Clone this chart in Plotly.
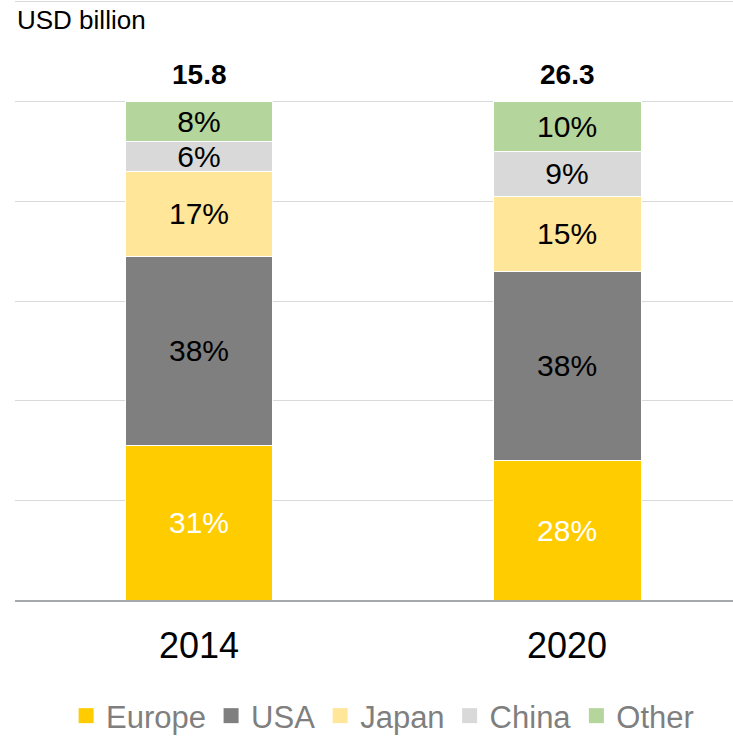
import plotly.graph_objects as go

years = ["2014", "2020"]
totals = [15.8, 26.3]
regions = ["Europe", "USA", "Japan", "China", "Other"]
shares = {
    "Europe": [31, 28],
    "USA": [38, 38],
    "Japan": [17, 15],
    "China": [6, 9],
    "Other": [8, 10],
}
colors = {
    "Europe": "#FFCC00",
    "USA": "#7F7F7F",
    "Japan": "#FFE699",
    "China": "#D9D9D9",
    "Other": "#B4D59C",
}
text_colors = {"Europe": "white", "USA": "black", "Japan": "black", "China": "black", "Other": "black"}

FONT = "Liberation Sans, Arial, sans-serif"

fig = go.Figure()
for r in regions:
    fig.add_trace(go.Bar(
        x=years, y=shares[r], name=r, showlegend=False,
        marker=dict(color=colors[r], line=dict(color="white", width=1)),
        text=[f"{v}%" for v in shares[r]],
        textposition="inside", insidetextanchor="middle", textangle=0,
        constraintext="none",
        textfont=dict(size=30, color=text_colors[r], family=FONT),
        width=0.402, hoverinfo="skip",
    ))

# legend entries with square swatches
for r in regions:
    fig.add_trace(go.Scatter(
        x=[None], y=[None], mode="markers", name=r,
        marker=dict(symbol="square", size=15, color=colors[r]),
        hoverinfo="skip",
    ))

for i, t in enumerate(totals):
    fig.add_annotation(x=i, y=100, text=f"<b>{t}</b>", showarrow=False,
                       yanchor="middle", yshift=27,
                       font=dict(size=28, color="black", family=FONT))

fig.add_annotation(xref="paper", yref="paper", x=0.0, y=0.967, text="USD billion",
                   showarrow=False, xanchor="left", yanchor="middle",
                   font=dict(size=26, color="black", family=FONT))

fig.update_layout(
    width=733, height=736,
    margin=dict(l=15, r=0, t=0, b=136, autoexpand=False),
    barmode="stack",
    plot_bgcolor="white", paper_bgcolor="white",
    font=dict(family=FONT),
    showlegend=True,
    legend=dict(orientation="h", x=0.512, xanchor="center",
                yref="container", y=1 - 716 / 736, yanchor="middle",
                font=dict(size=31, color="#7F7F7F", family=FONT),
                itemwidth=30, traceorder="normal"),
    xaxis=dict(type="category", range=[-0.5, 1.451], showline=True, linecolor="#A6A9AC",
               linewidth=2, ticks="", tickfont=dict(size=36, color="black", family=FONT),
               ticklabelstandoff=13, showgrid=False),
    yaxis=dict(range=[0, 120.4], tickvals=[20, 40, 60, 80, 100, 120], showgrid=True,
               gridcolor="#D9D9D9", gridwidth=1,
               showticklabels=False, zeroline=False, ticks=""),
)

fig.write_html("out.html", config={"displayModeBar": False},
               post_script="document.body.style.margin='0';document.body.style.overflow='hidden';")
